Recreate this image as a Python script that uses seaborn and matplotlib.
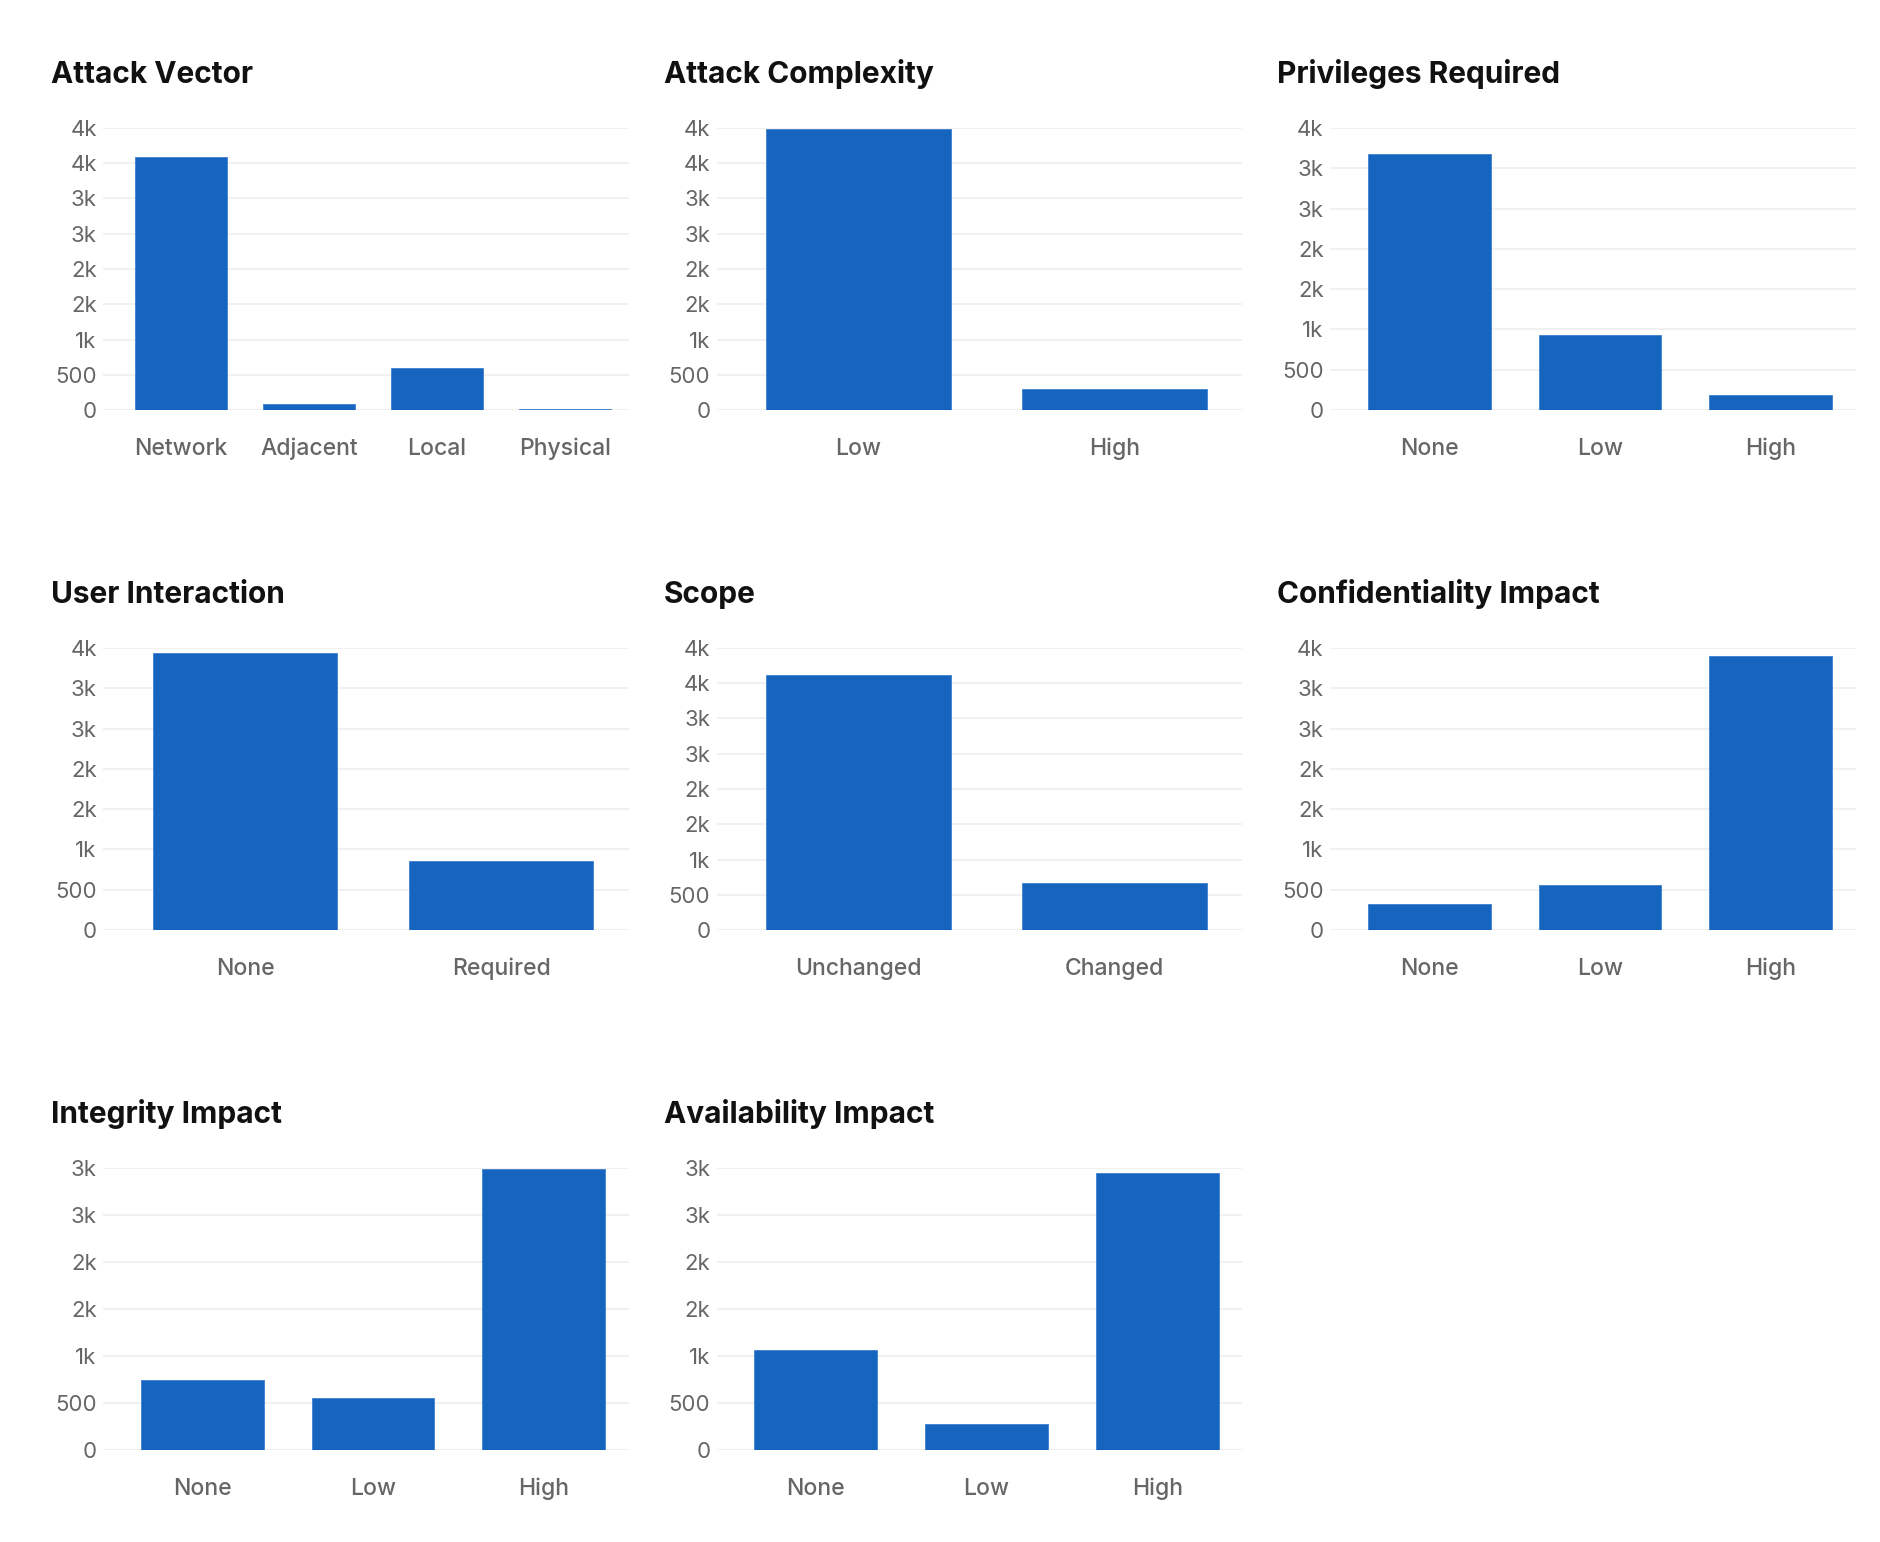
import math
import numpy as np
import pandas as pd
import matplotlib
matplotlib.use("Agg")
import matplotlib.pyplot as plt
from matplotlib.ticker import FuncFormatter
import seaborn as sns

# ---- data ----
titles = ["Attack Vector", "Attack Complexity", "Privileges Required",
          "User Interaction", "Scope", "Confidentiality Impact",
          "Integrity Impact", "Availability Impact"]

av_cats = ["Network", "Adjacent", "Local", "Physical"]
av_vals = [3592, 80, 600, 15]

ac_cats = ["Low", "High"]
ac_vals = [3990, 297]

pr_cats = ["None", "Low", "High"]
pr_vals = [3180, 926, 181]

ui_cats = ["None", "Required"]
ui_vals = [3434, 853]

s_cats = ["Unchanged", "Changed"]
s_vals = [3620, 667]

c_cats = ["None", "Low", "High"]
c_vals = [326, 561, 3400]

i_cats = ["None", "Low", "High"]
i_vals = [746, 555, 2986]

a_cats = ["None", "Low", "High"]
a_vals = [1064, 280, 2943]

panels = list(zip(titles,
                  [av_cats, ac_cats, pr_cats, ui_cats, s_cats, c_cats, i_cats, a_cats],
                  [av_vals, ac_vals, pr_vals, ui_vals, s_vals, c_vals, i_vals, a_vals]))

BLUE = "#1565C0"
GRID = "#f1f1f1"
TICK = "#666666"
TITLE = "#111111"

sns.set_theme(style="white")
plt.rcParams["font.family"] = ["Inter", "DejaVu Sans"]

W, H = 1880, 1542
fig = plt.figure(figsize=(W / 100, H / 100), dpi=100)
fig.patch.set_facecolor("white")


def kfmt(v, pos):
    if v == 0:
        return "0"
    if v < 1000:
        return f"{int(v)}"
    return f"{int(math.floor(v / 1000 + 0.5))}k"


for idx, (title, cats, vals) in enumerate(panels):
    col = idx % 3
    row = idx // 3
    left = 103 + 613.5 * col
    right = left + 526
    top = 128 + 520 * row
    bottom = 410 + 520 * row
    ax = fig.add_axes([left / W, 1 - bottom / H, (right - left) / W, (bottom - top) / H])
    df = pd.DataFrame({"cat": cats, "val": vals})
    sns.barplot(data=df, x="cat", y="val", color=BLUE, saturation=1, width=0.72,
                ax=ax, edgecolor="#3f7fcc", linewidth=0.6)
    ymax = math.ceil(max(vals) / 500) * 500
    ax.set_ylim(0, ymax)
    ax.set_yticks(np.arange(0, ymax + 1, 500))
    ax.yaxis.set_major_formatter(FuncFormatter(kfmt))
    ax.yaxis.grid(True, color=GRID, linewidth=1.5)
    ax.xaxis.grid(False)
    ax.set_axisbelow(True)
    for sp in ax.spines.values():
        sp.set_visible(False)
    n = len(cats)
    d = 14 * n / 511
    ax.set_xlim(-0.5 - d, n - 0.5)
    ax.set_xlabel("")
    ax.set_ylabel("")
    ax.tick_params(axis="y", length=0, pad=4.5, labelsize=16, labelcolor=TICK)
    ax.tick_params(axis="x", length=0, pad=20, labelsize=16.5, labelcolor=TICK)
    for lab in ax.get_xticklabels():
        lab.set_fontweight("medium")
    fig.text((51 + 613 * col) / W, 1 - (83 + 520 * row) / H, title,
             fontsize=21.5, fontweight="bold", color=TITLE, ha="left", va="baseline")

fig.savefig("out.png", dpi=100, facecolor="white")
